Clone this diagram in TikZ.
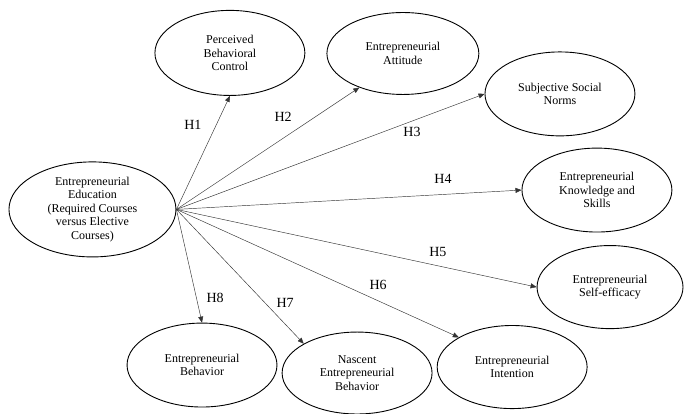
\documentclass[tikz,border=0pt]{standalone}
\usepackage{fontspec}
\setmainfont{Liberation Serif}
\usetikzlibrary{shapes.geometric, arrows.meta}

\tikzset{
  construct/.style={draw, ellipse, line width=0.9pt, inner sep=0pt,
    minimum width=5.27cm, minimum height=2.95cm, align=center,
    font=\fontsize{12}{13.6}\selectfont},
  hyp/.style={draw=black!80, line width=0.45pt, -{Triangle[length=6pt,width=5pt]}},
  hlabel/.style={font=\fontsize{14}{16}\selectfont}
}

\begin{document}
\begin{tikzpicture}
  \useasboundingbox (0,0) rectangle (24.04,-14.55);
  \node[construct, minimum width=5.87cm, minimum height=3.34cm] (edu) at (3.25,-7.36)
    {Entrepreneurial\\Education\\(Required Courses\\versus Elective\\Courses)};
  \node[construct, minimum height=2.99cm] (pbc) at (8.08,-1.86) {Perceived\\Behavioral\\Control};
  \node[construct, minimum width=5.34cm, minimum height=2.88cm] (att) at (14.16,-1.88) {Entrepreneurial\\Attitude};
  \node[construct] (ssn) at (19.68,-3.30) {Subjective Social\\Norms};
  \node[construct] (eks) at (20.98,-6.68) {Entrepreneurial\\Knowledge and\\Skills};
  \node[construct, minimum width=5.13cm, minimum height=2.92cm] (ese) at (21.44,-10.09) {Entrepreneurial\\Self-efficacy};
  \node[construct, minimum height=2.92cm] (ei) at (18.00,-12.90) {Entrepreneurial\\Intention};
  \node[construct, minimum height=2.88cm] (neb) at (12.55,-13.11) {Nascent\\Entrepreneurial\\Behavior};
  \node[construct] (eb) at (7.10,-12.83) {Entrepreneurial\\Behavior};

  \draw[hyp] (edu.east) -- (pbc.south);
  \draw[hyp] (edu.east) -- (att.218);
  \draw[hyp] (edu.east) -- (ssn.west);
  \draw[hyp] (edu.east) -- (eks.west);
  \draw[hyp] (edu.east) -- (ese.west);
  \draw[hyp] (edu.east) -- (ei.north west);
  \draw[hyp] (edu.east) -- (neb.north west);
  \draw[hyp] (edu.east) -- (eb.north);

  \node[hlabel] (h1) at (6.78,-4.39) {H1};
  \node[hlabel] (h2) at (9.95,-4.11) {H2};
  \node[hlabel] (h3) at (14.48,-4.64) {H3};
  \node[hlabel] (h4) at (15.57,-6.29) {H4};
  \node[hlabel] (h5) at (15.39,-8.86) {H5};
  \node[hlabel] (h6) at (13.29,-10.02) {H6};
  \node[hlabel] (h7) at (10.02,-10.65) {H7};
  \node[hlabel] (h8) at (7.56,-10.47) {H8};
\end{tikzpicture}
\end{document}
